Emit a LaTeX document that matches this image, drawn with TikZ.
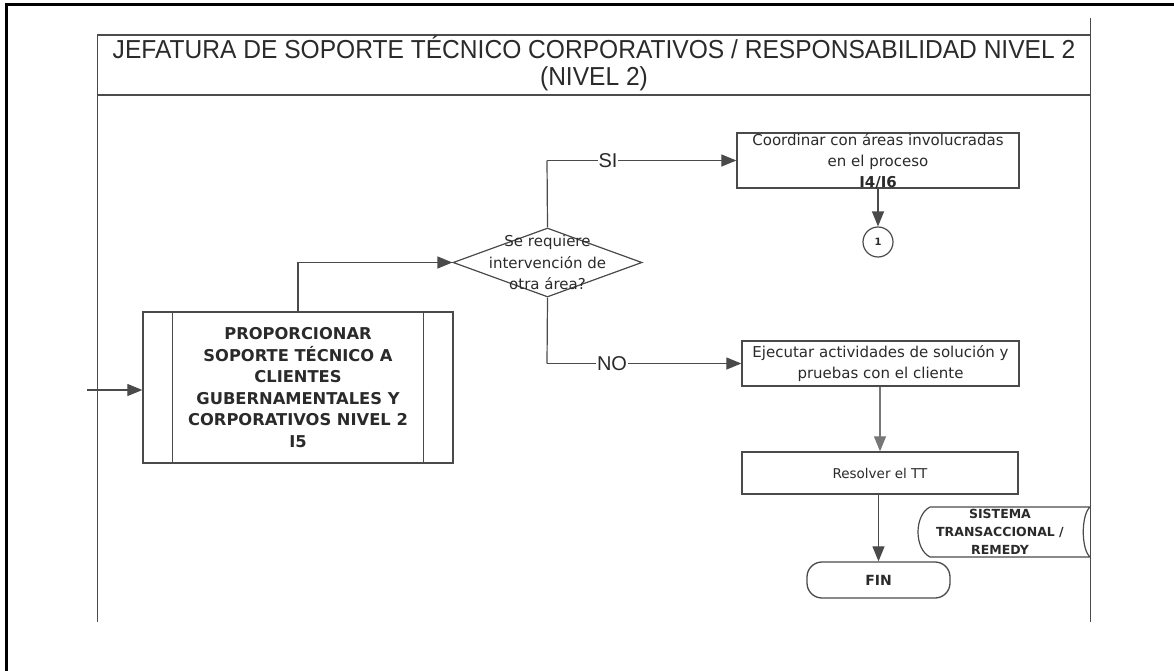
\documentclass[tikz,border=0pt]{standalone}
\usepackage{fontspec}
\setmainfont{DejaVu Sans}
\newfontfamily\hdrfont[FakeStretch=0.945]{Liberation Sans}
\newfontfamily\arialfont{Liberation Sans}
\usetikzlibrary{arrows.meta,shapes.geometric}
\definecolor{ln}{HTML}{4A4A4A}
\definecolor{tx}{HTML}{2A2A2A}
\tikzset{
  arr/.style={draw=ln, line width=1.2pt, -{Triangle[length=15pt,width=12pt]}},
  conn/.style={draw=ln, line width=1.2pt},
  procbox/.style={draw=ln, line width=1.3pt, rectangle, inner sep=0pt, text=tx, align=center, font=\fontsize{15}{21}\selectfont},
  lbl/.style={fill=white, inner sep=1pt, text=tx, font=\arialfont\fontsize{20}{20}\selectfont},
  hdr/.style={text=tx, inner sep=0pt, anchor=base, text height=18pt, text depth=0pt, font=\hdrfont\fontsize{26}{26}\selectfont},
}
\begin{document}
\begin{tikzpicture}[x=1pt,y=-1pt]
\useasboundingbox (0,0) rectangle (1174,671);
% outer frame
\draw[black, line width=3pt] (5,5) -- (1174,5);
\draw[black, line width=3pt] (6,5) -- (6,671);
% lane
\draw[ln, line width=1pt] (97,35) -- (97,622);
\draw[ln, line width=1pt] (1090,18) -- (1090,622);
\draw[gray!60!black, line width=2pt] (97,35) -- (1090,35);
\draw[gray!60!black, line width=2pt] (97,95) -- (1090,95);
\node[hdr] (hdr1) at (594,59)
  {JEFATURA DE SOPORTE TÉCNICO CORPORATIVOS / RESPONSABILIDAD NIVEL 2};
\node[hdr] (hdr2) at (594,86) {(NIVEL 2)};
% main process
\node[procbox, minimum width=310, minimum height=151, font=\fontsize{16.3}{21.5}\selectfont\bfseries] (main) at (298,387.5)
  {PROPORCIONAR\\SOPORTE TÉCNICO A\\CLIENTES\\GUBERNAMENTALES Y\\CORPORATIVOS NIVEL 2\\I5};
\draw[conn] ([xshift=30]main.north west) -- ([xshift=30]main.south west);
\draw[conn] ([xshift=-30]main.north east) -- ([xshift=-30]main.south east);
\coordinate (in) at (87,390);
\draw[arr] (in) -- (in -| main.west);
% decision
\node[diamond, draw=ln, line width=1.2pt, minimum width=189, minimum height=69, inner sep=0pt,
  label={[align=center, text=tx, font=\fontsize{15}{21.5}\selectfont]center:Se requiere\\intervención de\\otra área?}] (dec) at (547.5,262.5) {};
\draw[arr] (main.north) |- (dec.west);
% SI branch
\node[draw=ln, line width=1.3pt, rectangle, inner sep=0pt, minimum width=282, minimum height=55,
  label={[align=center, text=tx, font=\fontsize{15}{21}\selectfont, yshift=-1pt]center:Coordinar con áreas involucradas\\en el proceso\\\textbf{I4/I6}}] (coord) at (878,160.5) {};
\coordinate (siup) at (547,160.5);
\draw[conn] (dec.north) -- (siup);
\draw[arr] (siup) -- (coord.west);
\node[lbl] (si) at (608,160.5) {SI};
\node[circle, draw=ln, line width=1.2pt, minimum size=30, inner sep=0pt, text=tx, font=\fontsize{10}{10}\selectfont\bfseries] (c1) at (878,242) {1};
\draw[arr] (coord.south) -- (c1.north);
% NO branch
\node[procbox, minimum width=277, minimum height=45] (exe) at (880.5,363.5)
  {Ejecutar actividades de solución y\\pruebas con el cliente};
\coordinate (nodn) at (547,363.5);
\draw[conn] (dec.south) -- (nodn);
\draw[arr] (nodn) -- (exe.west);
\node[lbl] (no) at (612,363.5) {NO};
\node[procbox, minimum width=276, minimum height=42, font=\fontsize{13.5}{13.5}\selectfont] (res) at (880,473) {Resolver el TT};
\draw[arr, draw=ln!75] ([xshift=-0.5]exe.south) -- ([xshift=-0.5]exe.south |- res.north);
\node[draw=ln, line width=1.3pt, rectangle, rounded corners=15pt, minimum width=143, minimum height=36, inner sep=0pt, text=tx, font=\fontsize{14}{14}\selectfont\bfseries] (fin) at (878.5,580) {FIN};
\draw[arr] (res.south -| fin.north) -- (fin.north);
% data store
\draw[ln, line width=1.2pt] (930,507) -- (1090,507)
  (1090,507) .. controls (1081,515) and (1081,549) .. (1090,557)
  (1090,557) -- (930,557)
  .. controls (914,549) and (914,515) .. (930,507);
\node[align=center, text=tx, inner sep=0pt, font=\fontsize{12.5}{18}\selectfont\bfseries] (sys) at (1000,532)
  {SISTEMA\\TRANSACCIONAL /\\REMEDY};
\end{tikzpicture}
\end{document}
